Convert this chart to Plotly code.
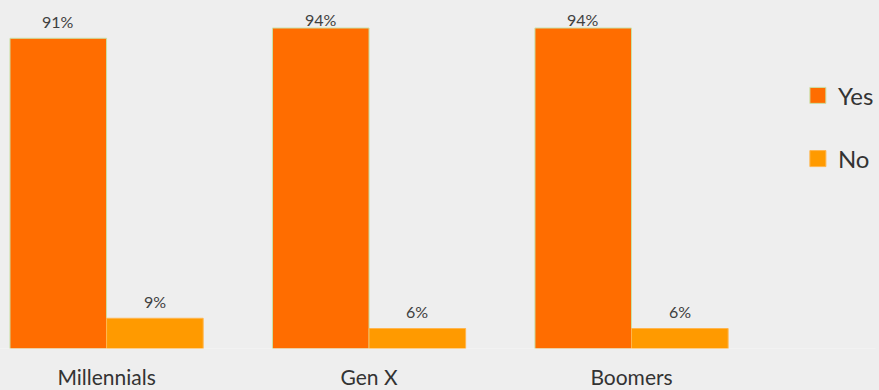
import numpy as np
import plotly.graph_objects as go

categories = ["Millennials", "Gen X", "Boomers"]
yes_values = [91, 94, 94]
no_values = [9, 6, 6]
series_names = ["Yes", "No"]

YES_COLOR = "#FF6D00"
NO_COLOR = "#FF9A00"
BG = "#EEEEEE"
FONT = "Lato"

BARGAP = 0.264

fig = go.Figure()
fig.add_trace(go.Bar(x=categories, y=yes_values, name="Yes", showlegend=False,
                     marker=dict(color=YES_COLOR, line=dict(color="#C9E2A8", width=1))))
fig.add_trace(go.Bar(x=categories, y=no_values, name="No", showlegend=False,
                     marker=dict(color=NO_COLOR, line=dict(color="#FFB54D", width=1))))

# legend entries
fig.add_trace(go.Scatter(x=[None], y=[None], mode="markers", name="Yes", legendgroup="a",
                         marker=dict(symbol="square", size=16, color=YES_COLOR,
                                     line=dict(color="#C9E2A8", width=1))))
fig.add_trace(go.Scatter(x=[None], y=[None], mode="markers", name="No", legendgroup="b",
                         marker=dict(symbol="square", size=16, color=NO_COLOR,
                                     line=dict(color="#FFB54D", width=1))))

# value labels
half = (1 - BARGAP) / 4
for i, (yv, nv) in enumerate(zip(yes_values, no_values)):
    for off, v in ((-half, yv), (half, nv)):
        fig.add_annotation(x=i + off, y=min(v + 5, 96.5), text=f"{v}%", showarrow=False,
                           xref="x", yref="y", yanchor="middle",
                           font=dict(family=FONT, size=16, color="#404040"))

PLOT_RIGHT = 770
W = 879
fig.add_shape(type="line", xref="paper", yref="y", x0=0, x1=W / PLOT_RIGHT, y0=0, y1=0,
              line=dict(color="#F6F6F6", width=1), layer="above")

fig.update_layout(
    width=W, height=390,
    margin=dict(l=0, r=W - PLOT_RIGHT, t=0, b=41),
    paper_bgcolor=BG, plot_bgcolor=BG,
    barmode="group", bargap=BARGAP, bargroupgap=0,
    font=dict(family=FONT, color="#333333"),
    xaxis=dict(type="category", categoryorder="array", categoryarray=categories,
               range=[-0.406, (PLOT_RIGHT - 107) / 263.5],
               showgrid=False, zeroline=False, showline=False,
               ticks="outside", ticklen=10, tickcolor="rgba(0,0,0,0)",
               tickfont=dict(family=FONT, size=21, color="#333333")),
    yaxis=dict(range=[0, 102.2], visible=False, showgrid=False, zeroline=False),
    legend=dict(x=801 / PLOT_RIGHT, xanchor="left", y=0.79, yanchor="top",
                font=dict(family=FONT, size=24, color="#333333"),
                tracegroupgap=29, bgcolor="rgba(0,0,0,0)"),
)

fig.write_html("out.html")
